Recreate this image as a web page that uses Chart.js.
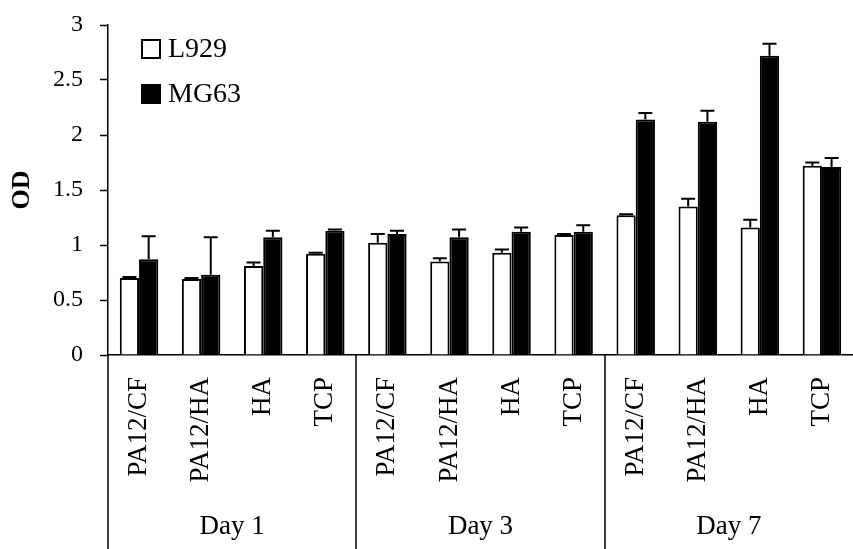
<!DOCTYPE html>
<html>
<head>
<meta charset="utf-8">
<script src="https://cdn.jsdelivr.net/npm/chart.js@4.4.1/dist/chart.umd.min.js"></script>
<style>
  html, body { margin: 0; padding: 0; background: #fff; }
  #wrap { width: 853px; height: 549px; }
</style>
</head>
<body>
<div id="wrap"><canvas id="odChart" width="853" height="549"></canvas></div>
<script>
// categories (4 materials repeated for each day)
var materials = ['PA12/CF', 'PA12/HA', 'HA', 'TCP'];
var days = ['Day 1', 'Day 3', 'Day 7'];
var categories = [];
for (var d = 0; d < days.length; d++) {
    for (var m = 0; m < materials.length; m++) categories.push(materials[m]);
}

// OD values
var l929 = [0.70, 0.69, 0.81, 0.92, 1.02, 0.85, 0.93, 1.09, 1.27, 1.35, 1.16, 1.72];
var mg63 = [0.87, 0.73, 1.07, 1.13, 1.10, 1.07, 1.12, 1.12, 2.14, 2.12, 2.72, 1.71];
// upper error bars
var l929Err = [0.01, 0.01, 0.03, 0.01, 0.08, 0.03, 0.03, 0.01, 0.01, 0.07, 0.07, 0.03];
var mg63Err = [0.21, 0.34, 0.06, 0.01, 0.03, 0.07, 0.04, 0.06, 0.06, 0.10, 0.11, 0.08];

var yTicks = [0, 0.5, 1, 1.5, 2, 2.5, 3];

var serif = '"Liberation Serif", "Times New Roman", serif';

// error bars drawn on top of each bar
var errorBarPlugin = {
    id: 'errorBars',
    afterDatasetsDraw: function(chart) {
        var ctx = chart.ctx;
        var yScale = chart.scales.y;
        var errs = [l929Err, mg63Err];
        ctx.save();
        ctx.strokeStyle = '#000';
        ctx.lineWidth = 2;
        for (var i = 0; i < chart.data.datasets.length; i++) {
            var meta = chart.getDatasetMeta(i);
            var vals = chart.data.datasets[i].data;
            meta.data.forEach(function(bar, j) {
                var top = yScale.getPixelForValue(vals[j] + errs[i][j]);
                ctx.beginPath();
                ctx.moveTo(bar.x, bar.y);
                ctx.lineTo(bar.x, top);
                ctx.moveTo(bar.x - 7, top);
                ctx.lineTo(bar.x + 7, top);
                ctx.stroke();
            });
        }
        ctx.restore();
    }
};

// day group labels, separators and the legend inside the plot
var decorPlugin = {
    id: 'decor',
    afterDraw: function(chart) {
        var ctx = chart.ctx;
        var area = chart.chartArea;
        var groupW = (area.right - area.left) / days.length;
        ctx.save();
        ctx.strokeStyle = '#000';
        ctx.lineWidth = 1.5;
        ctx.beginPath();
        for (var i = 0; i < days.length; i++) {
            var gx = Math.round(area.left + i * groupW);
            ctx.moveTo(gx, area.bottom);
            ctx.lineTo(gx, chart.height);
        }
        ctx.stroke();

        ctx.fillStyle = '#000';
        ctx.font = '27px ' + serif;
        ctx.textAlign = 'center';
        ctx.textBaseline = 'middle';
        for (var k = 0; k < days.length; k++) {
            ctx.fillText(days[k], area.left + (k + 0.5) * groupW, 527);
        }

        // legend
        var ds = chart.data.datasets;
        ctx.textAlign = 'left';
        ctx.font = '28px ' + serif;
        for (var n = 0; n < ds.length; n++) {
            var by = 40 + n * 45;
            ctx.fillStyle = ds[n].backgroundColor;
            ctx.fillRect(142, by, 18, 18);
            ctx.lineWidth = 2;
            ctx.strokeRect(142, by, 18, 18);
            ctx.fillStyle = '#000';
            ctx.fillText(ds[n].label, 168, by + 10);
        }
        ctx.restore();
    }
};

var ctx = document.getElementById('odChart').getContext('2d');
window.odChart = new Chart(ctx, {
    type: 'bar',
    data: {
        labels: categories,
        datasets: [{
            label: 'L929',
            data: l929,
            backgroundColor: '#ffffff',
            borderColor: '#000000',
            borderWidth: 2
        }, {
            label: 'MG63',
            data: mg63,
            backgroundColor: '#000000',
            borderColor: '#000000',
            borderWidth: 2
        }]
    },
    options: {
        responsive: false,
        animation: false,
        devicePixelRatio: 1,
        layout: { padding: { top: 25, right: 0, bottom: 0, left: 0 } },
        datasets: {
            bar: { categoryPercentage: 0.62, barPercentage: 1.0 }
        },
        plugins: {
            legend: { display: false },
            tooltip: { enabled: false }
        },
        scales: {
            x: {
                grid: { display: false, drawTicks: false },
                border: { color: '#000', width: 1.5 },
                ticks: {
                    color: '#000',
                    font: { family: serif, size: 27 },
                    minRotation: 90,
                    maxRotation: 90,
                    padding: 22,
                    autoSkip: false
                },
                afterFit: function(scale) {
                    scale.height = 194;
                    scale.paddingLeft = 0;
                    scale.paddingRight = 0;
                }
            },
            y: {
                min: 0,
                max: 3,
                grid: { drawOnChartArea: false, color: '#000', tickLength: 8, tickWidth: 1.5 },
                border: { color: '#000', width: 1.5 },
                afterBuildTicks: function(scale) {
                    scale.ticks = yTicks.map(function(v) { return { value: v }; });
                },
                ticks: {
                    color: '#000',
                    font: { family: serif, size: 24 },
                    padding: 17,
                    callback: function(value) { return String(value); }
                },
                title: {
                    display: true,
                    text: 'OD',
                    color: '#000',
                    font: { family: serif, size: 26, weight: 'bold' },
                    padding: { top: 7, bottom: 0 }
                },
                afterFit: function(scale) {
                    scale.width = 108;
                    scale.paddingTop = 0;
                    scale.paddingBottom = 0;
                }
            }
        }
    },
    plugins: [errorBarPlugin, decorPlugin]
});
</script>
</body>
</html>
